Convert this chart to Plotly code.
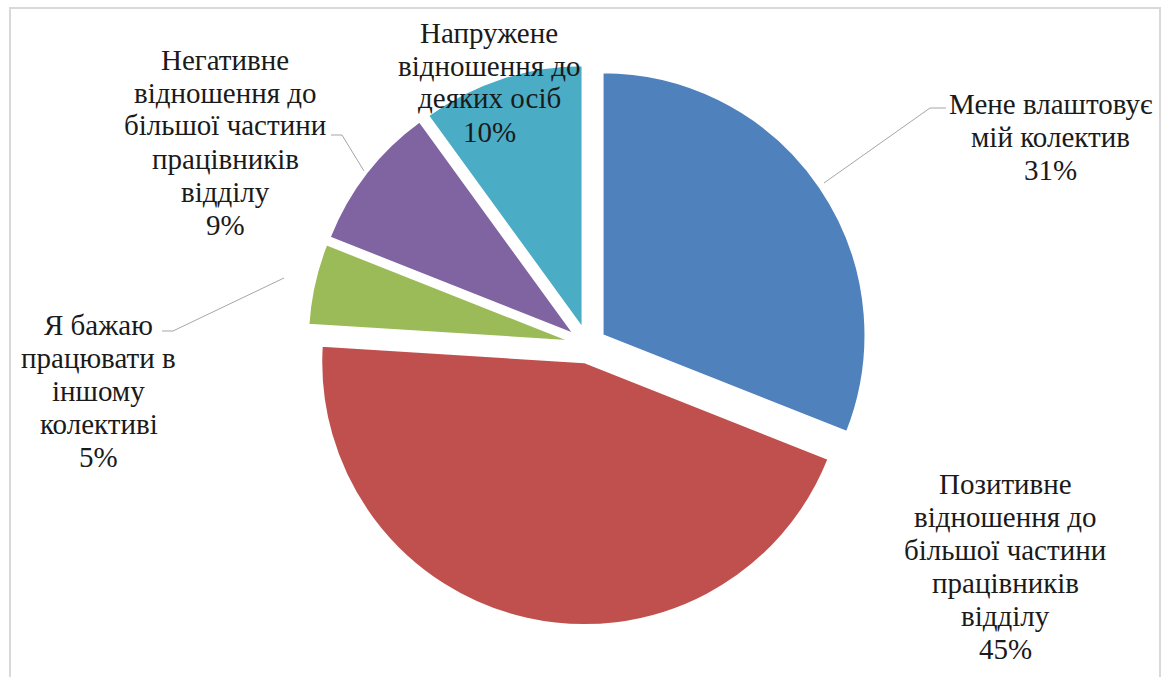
import plotly.graph_objects as go

W, H = 1165, 677

# Survey answers, clockwise from 12 o'clock
labels = [
    ["Мене влаштовує", "мій колектив"],
    ["Позитивне", "відношення до", "більшої частини", "працівників", "відділу"],
    ["Я бажаю", "працювати в", "іншому", "колективі"],
    ["Негативне", "відношення до", "більшої частини", "працівників", "відділу"],
    ["Напружене", "відношення до", "деяких осіб"],
]
values = [31, 45, 5, 9, 10]
colors = ["#4F81BD", "#C0504D", "#9BBB59", "#8064A2", "#4BACC6"]

# label block centres (pixels) and optional leader lines
label_pos = [(1050, 137), (1005, 566), (99, 391), (225, 142), (489, 82)]
leaders = [
    [(946, 108), (930, 108), (824, 183)],
    None,
    [(162, 331), (173, 331), (284, 278)],
    [(331, 135), (342, 135), (364, 171)],
    None,
]

SERIF = "Times New Roman"
FONT_SIZE = 29
LINE_STEP = 33  # px between label lines


def px(x):
    return x / W


def py(y):
    return 1 - y / H


fig = go.Figure(
    go.Pie(
        labels=[" ".join(l) for l in labels],
        values=values,
        sort=False,
        direction="clockwise",
        rotation=0,
        pull=0.067,
        textinfo="none",
        hoverinfo="label+percent",
        marker=dict(colors=colors, line=dict(color="white", width=2)),
        domain=dict(x=[px(307.5), px(868.5)], y=[py(625.5), py(64.5)]),
        showlegend=False,
    )
)

total = sum(values)
annotations = []
for lines, v, (x, y) in zip(labels, values, label_pos):
    rows = lines + [f"{round(100 * v / total)}%"]
    n = len(rows)
    for i, row in enumerate(rows):
        yy = y + (i - (n - 1) / 2) * LINE_STEP
        annotations.append(
            dict(
                x=px(x), y=py(yy), xref="paper", yref="paper",
                text=row, showarrow=False,
                xanchor="center", yanchor="middle", align="center",
                font=dict(family=SERIF, size=FONT_SIZE, color="#1a1a1a"),
            )
        )

shapes = [
    dict(type="rect", xref="paper", yref="paper",
         x0=px(10), x1=px(1160), y0=py(700), y1=py(8),
         line=dict(color="#D9D9D9", width=2), layer="below")
]
for pts in leaders:
    if not pts:
        continue
    path = "M " + " L ".join(f"{px(a):.5f},{py(b):.5f}" for a, b in pts)
    shapes.append(dict(type="path", xref="paper", yref="paper", path=path,
                       line=dict(color="#A6A6A6", width=1)))

fig.update_layout(
    width=W, height=H,
    margin=dict(l=0, r=0, t=0, b=0),
    paper_bgcolor="white", plot_bgcolor="white",
    font=dict(family=SERIF),
    annotations=annotations, shapes=shapes,
)

fig.write_html("out.html")
